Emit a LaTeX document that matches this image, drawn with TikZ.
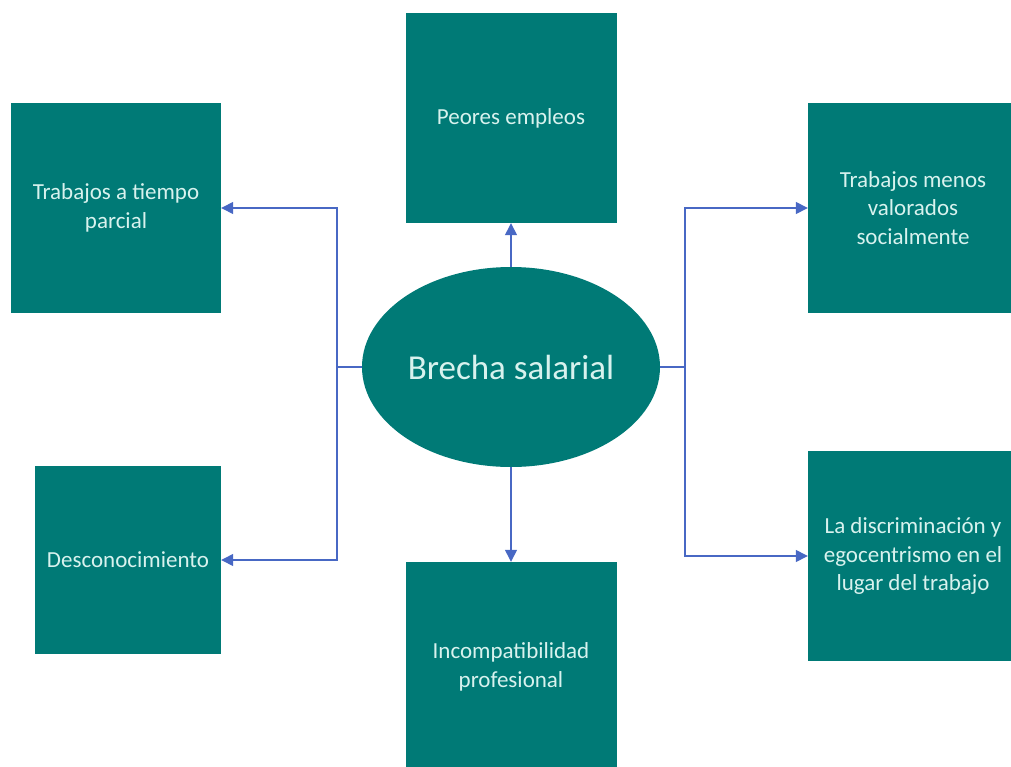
\documentclass[tikz,border=0pt]{standalone}
\usepackage{fontspec}
\setmainfont{Carlito}
\usetikzlibrary{arrows.meta,shapes.geometric}
\definecolor{tealbox}{RGB}{0,122,118}
\definecolor{boxtext}{RGB}{216,242,238}
\definecolor{linkblue}{RGB}{72,104,196}
\tikzset{
  topic/.style={fill=tealbox, draw=none, inner sep=0pt, align=center,
    text=boxtext, font=\fontsize{23}{28.5}\selectfont},
  hub/.style={ellipse, fill=tealbox, draw=none, inner sep=0pt,
    text=boxtext, font=\fontsize{35}{40}\selectfont},
  link/.style={draw=linkblue, line width=1.4pt,
    -{Triangle[length=12pt,width=12pt]}},
}
\begin{document}
\begin{tikzpicture}[x=1pt,y=-1pt]
\useasboundingbox (0,0) rectangle (1011,767);
\clip (0,0) rectangle (1011,767);
% central idea
\node[hub, minimum width=298pt, minimum height=200pt] (c) at (511,367) {Brecha salarial};
% surrounding topics
\node[topic, minimum width=211pt, minimum height=210pt] (top) at (511,118) {Peores empleos};
\node[topic, minimum width=210pt, minimum height=210pt] (lt) at (116,208) {Trabajos a tiempo\\parcial};
\node[topic, minimum width=186pt, minimum height=188pt] (lb) at (128,560) {Desconocimiento};
\node[topic, minimum width=211pt, minimum height=210pt] (bot) at (511,667) {Incompatibilidad\\profesional};
\node[topic, minimum width=210pt, minimum height=210pt] (rt) at (913,208) {Trabajos menos\\valorados\\socialmente};
\node[topic, minimum width=210pt, minimum height=210pt] (rb) at (913,556) {La discriminación y\\egocentrismo en el\\lugar del trabajo};
% connectors
\draw[link] (c.north) -- (top.south);
\draw[link] (c.south) -- (bot.north);
\draw[link] (c.west) -| (337,208) -- (lt.east);
\draw[link] (c.west) -| (337,560) -- (lb.east);
\draw[link] (c.east) -| (685,208) -- (rt.west);
\draw[link] (c.east) -| (685,556) -- (rb.west);
\end{tikzpicture}
\end{document}
